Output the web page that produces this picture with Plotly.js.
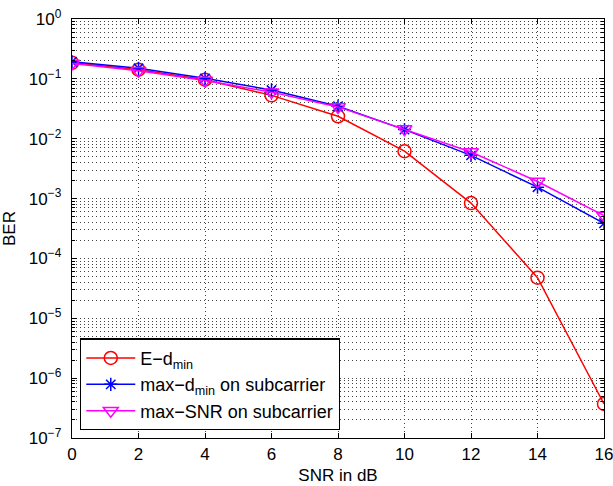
<!DOCTYPE html>
<html><head><meta charset="utf-8">
<script src="https://cdn.plot.ly/plotly-3.0.1.min.js"></script>
<style>body{margin:0;background:#fff}#c{width:613px;height:486px}</style>
</head><body><div id="c"></div>
<script>
const snr = [0, 2, 4, 6, 8, 10, 12, 14, 16];
const berEdmin = [0.185, 0.142, 0.097, 0.053, 0.0237, 0.0062, 0.00084, 0.0000477, 0.00000037];
const berMaxDmin = [0.193, 0.150, 0.102, 0.065, 0.0349, 0.0142, 0.00527, 0.00155, 0.000387];
const berMaxSnr = [0.180, 0.136, 0.094, 0.060, 0.0340, 0.0145, 0.0060, 0.00193, 0.00052];
const names = ['E\u2212d<sub>min</sub>', 'max\u2212d<sub>min</sub> on subcarrier', 'max\u2212SNR on subcarrier'];
const yTickVals = [1e-7, 1e-6, 1e-5, 1e-4, 1e-3, 1e-2, 1e-1, 1];
const yTickText = ['10<sup>\u22127</sup>', '10<sup>\u22126</sup>', '10<sup>\u22125</sup>', '10<sup>\u22124</sup>', '10<sup>\u22123</sup>', '10<sup>\u22122</sup>', '10<sup>\u22121</sup>', '10<sup>0</sup>'];

const traces = [
  {x: snr, y: berEdmin, name: names[0], mode: 'lines+markers', line: {color: '#ff0000', width: 1.5}, marker: {symbol: 'circle-open', size: 13, color: '#ff0000', line: {width: 1.5}}},
  {x: snr, y: berMaxDmin, name: names[1], mode: 'lines+markers', line: {color: '#0000ff', width: 1.5}, marker: {symbol: 'asterisk-open', size: 11, color: '#0000ff', line: {width: 1.5}}},
  {x: snr, y: berMaxSnr, name: names[2], mode: 'lines+markers', line: {color: '#ff00ff', width: 1.5}, marker: {symbol: 'triangle-down-open', size: 13, color: '#ff00ff', line: {width: 1.5}}}
];
const font = {family: 'Liberation Sans, Arial, sans-serif', size: 17, color: '#000'};
const grid = {color: '#444', dash: '1px,3px'};
const layout = {
  width: 613, height: 486,
  margin: {l: 72, r: 9, t: 19, b: 48},
  paper_bgcolor: '#fff', plot_bgcolor: '#fff',
  font: font,
  showlegend: true,
  legend: {x: 0.015, y: 0.018, xanchor: 'left', yanchor: 'bottom', bordercolor: '#000', borderwidth: 1.3, bgcolor: '#fff', itemwidth: 49, font: {family: font.family, size: 18, color: '#000'}, tracegroupgap: 0},
  xaxis: {
    range: [0, 16], dtick: 2, tick0: 0,
    title: {text: 'SNR in dB', font: font, standoff: 6},
    showline: true, linecolor: '#000', linewidth: 1.3, mirror: 'ticks',
    ticks: 'inside', ticklen: 5, tickcolor: '#000', ticklabeloverflow: 'allow',
    showgrid: true, gridcolor: grid.color, griddash: grid.dash, gridwidth: 1,
    zeroline: false, tickfont: font
  },
  yaxis: {
    type: 'log', range: [-7, 0],
    tickvals: yTickVals, ticktext: yTickText,
    title: {text: 'BER', font: font, standoff: 10},
    showline: true, linecolor: '#000', linewidth: 1.3, mirror: 'ticks',
    ticks: 'inside', ticklen: 5, tickcolor: '#000', ticklabelstandoff: 6, ticklabeloverflow: 'allow',
    showgrid: true, gridcolor: grid.color, griddash: grid.dash, gridwidth: 1,
    minor: {dtick: 'D1', showgrid: true, gridcolor: grid.color, griddash: grid.dash, ticks: 'inside', ticklen: 3, tickcolor: '#000'},
    zeroline: false, tickfont: font
  }
};
Plotly.newPlot('c', traces, layout, {displayModeBar: false, staticPlot: true});
</script>
</body></html>
